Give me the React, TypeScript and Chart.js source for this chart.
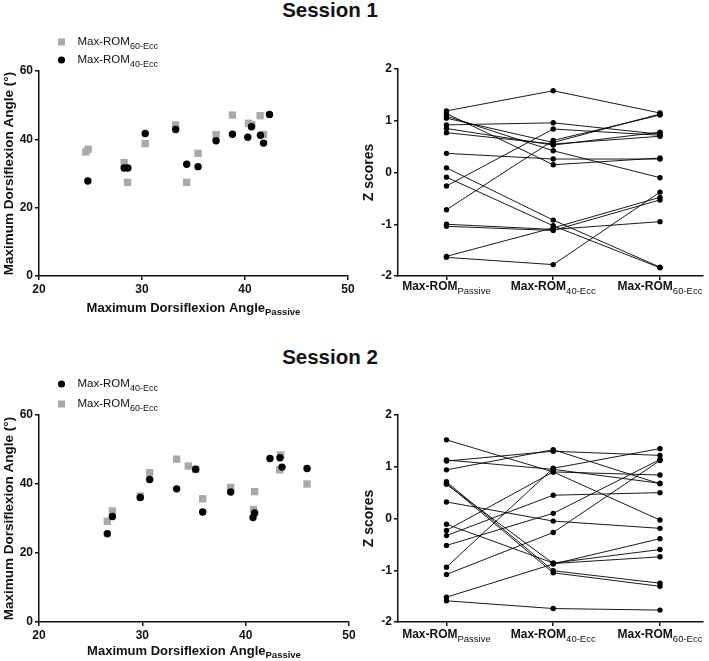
import React, { useEffect, useRef } from 'react';
import { Chart, registerables } from 'chart.js';

Chart.register(...registerables);

const FONT = '"Liberation Sans", Arial, Helvetica, sans-serif';
const GRAY = '#a9a9a9';
const INK = '#111111';

// ---------- Session 1 scatter ----------
const s1Ecc40Passive = [24.74, 28.27, 28.63, 30.31, 33.27, 34.34, 35.44, 37.19, 38.78, 40.27, 40.63, 41.5, 41.8, 42.38];
const s1Ecc40Max = [27.8, 31.6, 31.6, 41.7, 42.9, 32.7, 32.0, 39.6, 41.5, 40.6, 43.7, 41.2, 38.9, 47.3];
const s1Ecc60Passive = [24.54, 24.77, 28.27, 28.6, 30.31, 33.27, 34.34, 35.44, 37.19, 38.78, 40.34, 40.66, 41.47, 41.8];
const s1Ecc60Max = [36.3, 37.1, 33.2, 27.4, 38.75, 44.2, 27.4, 35.9, 41.4, 47.1, 44.7, 44.3, 46.9, 41.4];

// ---------- Session 2 scatter ----------
const s2Ecc40Passive = [26.61, 27.1, 29.8, 30.71, 33.32, 35.16, 35.84, 38.55, 40.71, 40.87, 42.35, 43.32, 43.52, 45.94];
const s2Ecc40Max = [25.6, 30.6, 36.1, 41.3, 38.6, 44.3, 31.9, 37.7, 30.3, 31.6, 47.4, 47.6, 44.9, 44.5];
const s2Ecc60Passive = [26.61, 27.1, 29.8, 30.71, 33.32, 34.45, 35.16, 35.84, 38.55, 40.77, 40.87, 43.39, 43.29, 45.94];
const s2Ecc60Max = [29.2, 32.2, 36.5, 43.3, 47.2, 45.2, 44.2, 35.7, 39.0, 32.6, 37.8, 48.4, 44.1, 40.0];

// ---------- Z scores (per subject: Passive, 40-Ecc, 60-Ecc) ----------
const zCategorySubs = ['Passive', '40-Ecc', '60-Ecc'];
const s1Z = [
  [1.19, 1.58, 1.15],
  [1.14, 0.15, 0.28],
  [1.09, 0.42, -0.1],
  [1.05, 0.58, 1.13],
  [0.92, 0.96, 0.74],
  [0.85, 0.53, 0.78],
  [0.77, 0.55, 0.7],
  [0.37, 0.26, 0.26],
  [0.09, -0.92, -1.83],
  [-0.09, -1.03, -1.84],
  [-0.26, 0.84, 0.72],
  [-0.72, 0.62, 1.11],
  [-1.0, -1.1, -0.95],
  [-1.04, -1.12, -0.53],
  [-1.62, -1.07, -0.48],
  [-1.64, -1.78, -0.38],
];
const s2Z = [
  [1.52, 0.9, -0.03],
  [1.13, 0.95, 0.68],
  [1.11, 1.3, 1.22],
  [0.94, 1.33, 0.67],
  [0.71, -1.01, -1.25],
  [0.68, -1.05, -1.31],
  [0.66, -0.87, -0.74],
  [0.32, -0.05, -0.19],
  [-0.11, -0.86, -0.6],
  [-0.23, 0.9, 0.84],
  [-0.33, 0.45, 0.5],
  [-0.52, 0.1, 1.14],
  [-0.94, 0.97, 1.35],
  [-1.08, -0.27, 1.12],
  [-1.52, -0.88, -0.39],
  [-1.59, -1.74, -1.77],
];

type Part = { t: string; sub?: boolean };

function drawRich(
  ctx: CanvasRenderingContext2D,
  parts: Part[],
  x: number,
  y: number,
  align: 'left' | 'center',
  mainFont: string,
  subFont: string,
  subDy: number
) {
  ctx.save();
  ctx.textBaseline = 'middle';
  ctx.textAlign = 'left';
  ctx.fillStyle = INK;
  let w = 0;
  for (const p of parts) {
    ctx.font = p.sub ? subFont : mainFont;
    w += ctx.measureText(p.t).width;
  }
  let cx = align === 'center' ? x - w / 2 : x;
  for (const p of parts) {
    ctx.font = p.sub ? subFont : mainFont;
    ctx.fillText(p.t, cx, p.sub ? y + subDy : y);
    cx += ctx.measureText(p.t).width;
  }
  ctx.restore();
}

type Box = { left: number; top: number; width: number; height: number };

function ChartCanvas({ box, make }: { box: Box; make: () => any }) {
  const ref = useRef<HTMLCanvasElement | null>(null);
  useEffect(() => {
    const chart = new Chart(ref.current as HTMLCanvasElement, make());
    return () => chart.destroy();
  }, []);
  return (
    <canvas
      ref={ref}
      width={box.width}
      height={box.height}
      style={{ position: 'absolute', left: box.left, top: box.top, width: box.width, height: box.height }}
    />
  );
}

const tickFont = { family: FONT, size: 12, weight: 'bold' as const };

function axisCommon() {
  return {
    grid: { display: true, drawOnChartArea: false, drawTicks: true, tickLength: 4, color: INK, lineWidth: 1.5 },
    border: { display: true, color: INK, width: 1.5 },
  };
}

type LegendItem = { kind: 'circle' | 'square'; sub: string; y: number };

function scatterConfig(o: {
  blackX: number[];
  blackY: number[];
  grayX: number[];
  grayY: number[];
  padTop: number;
  padRight: number;
  yW: number;
  xH: number;
  legend: LegendItem[];
  xTitleY: number;
  yTitleX: number;
}) {
  const toPts = (xs: number[], ys: number[]) => xs.map((x, i) => ({ x, y: ys[i] }));
  const labels = {
    id: 'scatterLabels',
    afterDraw(chart: any) {
      const ctx = chart.ctx as CanvasRenderingContext2D;
      const a = chart.chartArea;
      const main = `bold 13px ${FONT}`;
      const sub = `bold 9.5px ${FONT}`;
      drawRich(
        ctx,
        [{ t: 'Maximum Dorsiflexion Angle' }, { t: 'Passive', sub: true }],
        (a.left + a.right) / 2,
        o.xTitleY,
        'center',
        main,
        sub,
        4
      );
      ctx.save();
      ctx.translate(o.yTitleX, (a.top + a.bottom) / 2);
      ctx.rotate(-Math.PI / 2);
      drawRich(ctx, [{ t: 'Maximum Dorsiflexion Angle (°)' }], 0, 0, 'center', `bold 13.5px ${FONT}`, sub, 0);
      ctx.restore();
      // legend
      for (const it of o.legend) {
        ctx.save();
        if (it.kind === 'circle') {
          ctx.fillStyle = '#000';
          ctx.beginPath();
          ctx.arc(61.5, it.y, 3.6, 0, Math.PI * 2);
          ctx.fill();
        } else {
          ctx.fillStyle = GRAY;
          ctx.fillRect(61.5 - 3.5, it.y - 3.5, 7, 7);
        }
        ctx.restore();
        drawRich(
          ctx,
          [{ t: 'Max-ROM' }, { t: it.sub, sub: true }],
          77.5,
          it.y,
          'left',
          `11.5px ${FONT}`,
          `9px ${FONT}`,
          4.5
        );
      }
    },
  };
  return {
    type: 'scatter',
    data: {
      datasets: [
        {
          label: 'Max-ROM 40-Ecc',
          data: toPts(o.blackX, o.blackY),
          pointStyle: 'circle',
          pointRadius: 3.7,
          pointBackgroundColor: '#000',
          pointBorderWidth: 0,
          borderColor: '#000',
        },
        {
          label: 'Max-ROM 60-Ecc',
          data: toPts(o.grayX, o.grayY),
          pointStyle: 'rect',
          pointRadius: 5.2,
          pointBackgroundColor: GRAY,
          pointBorderWidth: 0,
          borderColor: GRAY,
        },
      ],
    },
    options: {
      responsive: false,
      maintainAspectRatio: false,
      animation: false,
      events: [],
      layout: { padding: { top: o.padTop, right: o.padRight, left: 0, bottom: 0 } },
      plugins: { legend: { display: false }, tooltip: { enabled: false } },
      scales: {
        x: {
          type: 'linear',
          min: 20,
          max: 50,
          ...axisCommon(),
          ticks: { stepSize: 10, color: INK, font: tickFont, padding: 2, maxRotation: 0 },
          afterFit: (s: any) => {
            s.height = o.xH;
          },
        },
        y: {
          type: 'linear',
          min: 0,
          max: 60,
          ...axisCommon(),
          ticks: { stepSize: 20, color: INK, font: tickFont, padding: 2 },
          afterFit: (s: any) => {
            s.width = o.yW;
          },
        },
      },
    },
    plugins: [labels],
  };
}

function zConfig(o: { rows: number[][]; padTop: number; padRight: number; yW: number; xH: number; labelY: number; yTitleX: number }) {
  const labels = {
    id: 'zLabels',
    afterDraw(chart: any) {
      const ctx = chart.ctx as CanvasRenderingContext2D;
      const a = chart.chartArea;
      const xs = chart.scales.x;
      zCategorySubs.forEach((s, i) => {
        drawRich(
          ctx,
          [{ t: 'Max-ROM' }, { t: s, sub: true }],
          xs.getPixelForValue(i),
          o.labelY,
          'center',
          `bold 12px ${FONT}`,
          `9.5px ${FONT}`,
          4
        );
      });
      ctx.save();
      ctx.translate(o.yTitleX, (a.top + a.bottom) / 2);
      ctx.rotate(-Math.PI / 2);
      drawRich(ctx, [{ t: 'Z scores' }], 0, 0, 'center', `bold 14px ${FONT}`, `9px ${FONT}`, 0);
      ctx.restore();
    },
  };
  return {
    type: 'scatter',
    data: {
      datasets: o.rows.map((r, k) => ({
        label: 'S' + (k + 1),
        data: r.map((v, i) => ({ x: i, y: v })),
        showLine: true,
        borderColor: '#000',
        borderWidth: 0.9,
        pointRadius: 2.7,
        pointBackgroundColor: '#000',
        pointBorderWidth: 0,
      })),
    },
    options: {
      responsive: false,
      maintainAspectRatio: false,
      animation: false,
      events: [],
      layout: { padding: { top: o.padTop, right: o.padRight, left: 0, bottom: 0 } },
      plugins: { legend: { display: false }, tooltip: { enabled: false } },
      scales: {
        x: {
          type: 'linear',
          min: -0.454,
          max: 2.403,
          ...axisCommon(),
          ticks: { display: false },
          afterBuildTicks: (s: any) => {
            s.ticks = zCategorySubs.map((_, i) => ({ value: i }));
          },
          afterFit: (s: any) => {
            s.height = o.xH;
          },
        },
        y: {
          type: 'linear',
          min: -2,
          max: 2,
          ...axisCommon(),
          ticks: { stepSize: 1, color: INK, font: tickFont, padding: 2 },
          afterFit: (s: any) => {
            s.width = o.yW;
          },
        },
      },
    },
    plugins: [labels],
  };
}

const titleStyle = (top: number): React.CSSProperties => ({
  position: 'absolute',
  left: 230,
  width: 200,
  top,
  textAlign: 'center',
  fontFamily: FONT,
  fontWeight: 'bold',
  fontSize: 20.5,
  lineHeight: '24px',
  color: INK,
});

export default function App() {
  return (
    <div style={{ position: 'absolute', left: 0, top: 0, width: 709, height: 661, background: '#fff', overflow: 'hidden' }}>
      <div style={titleStyle(-2)}>Session 1</div>
      <div style={titleStyle(345)}>Session 2</div>
      <ChartCanvas
        box={{ left: 0, top: 30, width: 360, height: 300 }}
        make={() =>
          scatterConfig({
            blackX: s1Ecc40Passive,
            blackY: s1Ecc40Max,
            grayX: s1Ecc60Passive,
            grayY: s1Ecc60Max,
            padTop: 41,
            padRight: 12,
            yW: 39,
            xH: 54,
            legend: [
              { kind: 'square', sub: '60-Ecc', y: 12 },
              { kind: 'circle', sub: '40-Ecc', y: 30 },
            ],
            xTitleY: 278,
            yTitleX: 9,
          })
        }
      />
      <ChartCanvas
        box={{ left: 360, top: 50, width: 349, height: 270 }}
        make={() => zConfig({ rows: s1Z, padTop: 19, padRight: 6, yW: 38, xH: 44, labelY: 237, yTitleX: 9 })}
      />
      <ChartCanvas
        box={{ left: 0, top: 360, width: 360, height: 301 }}
        make={() =>
          scatterConfig({
            blackX: s2Ecc40Passive,
            blackY: s2Ecc40Max,
            grayX: s2Ecc60Passive,
            grayY: s2Ecc60Max,
            padTop: 55,
            padRight: 11,
            yW: 39,
            xH: 39,
            legend: [
              { kind: 'circle', sub: '40-Ecc', y: 24 },
              { kind: 'square', sub: '60-Ecc', y: 44 },
            ],
            xTitleY: 291,
            yTitleX: 9,
          })
        }
      />
      <ChartCanvas
        box={{ left: 360, top: 380, width: 349, height: 281 }}
        make={() => zConfig({ rows: s2Z, padTop: 35, padRight: 6, yW: 38, xH: 39, labelY: 255, yTitleX: 9 })}
      />
    </div>
  );
}
